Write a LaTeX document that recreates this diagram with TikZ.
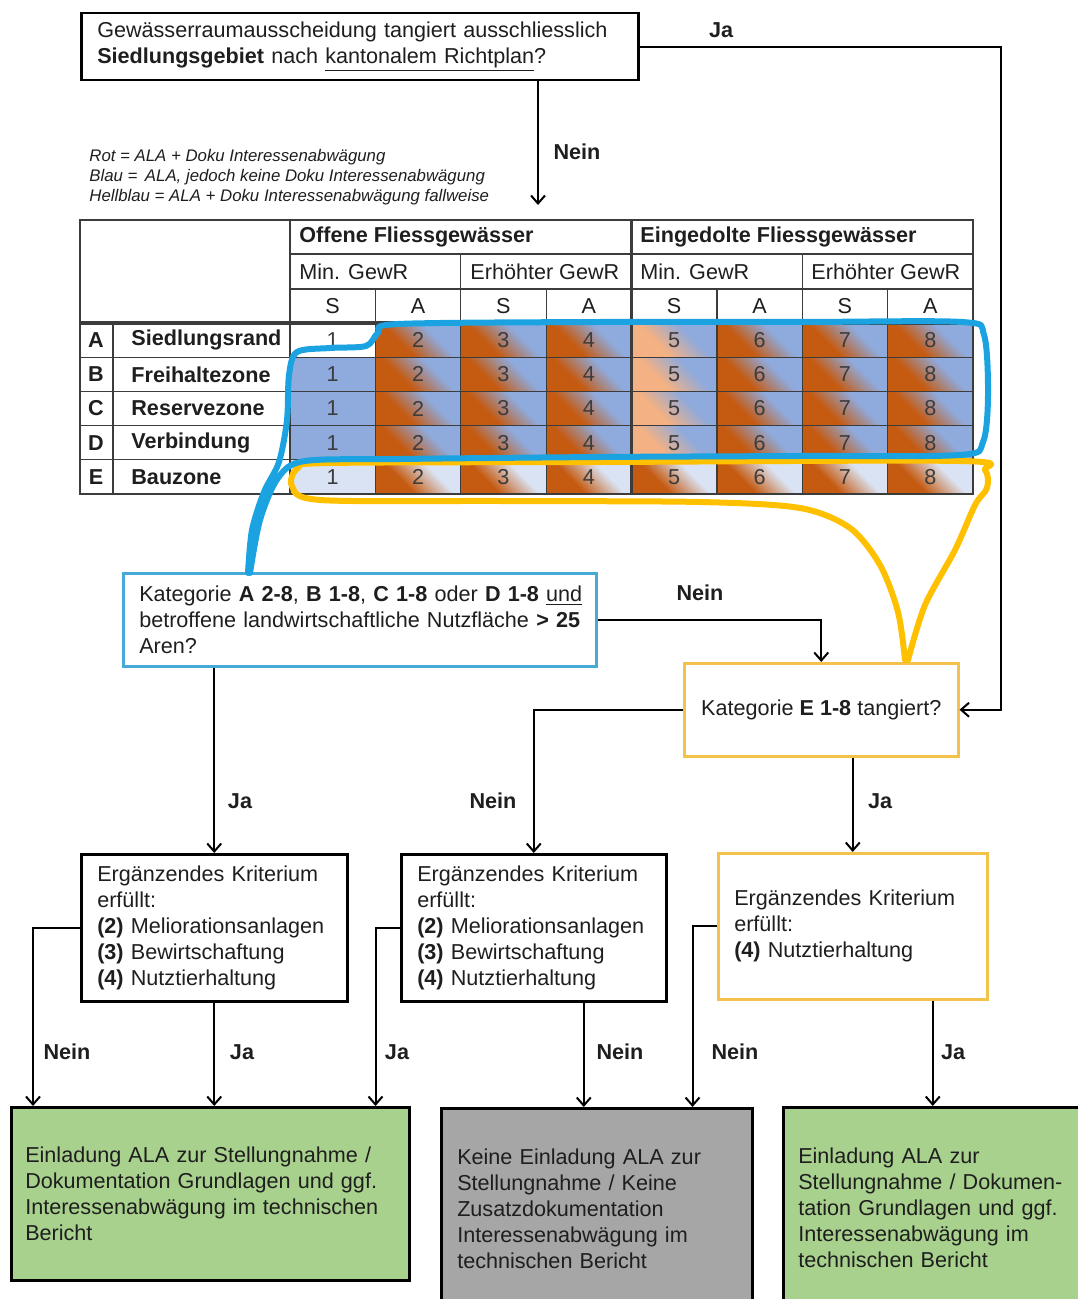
\documentclass[tikz,border=0pt]{standalone}
\usepackage{fontspec}
\setmainfont{Liberation Sans}
\usepackage{xcolor}
\usetikzlibrary{arrows.meta, positioning, calc}

\definecolor{orng}{HTML}{C55A11}
\definecolor{blu}{HTML}{8FAADC}
\definecolor{pch}{HTML}{F4B183}
\definecolor{ltblu}{HTML}{DAE3F3}
\definecolor{penblue}{HTML}{1AA3E0}
\definecolor{penyellow}{HTML}{FFC000}
\definecolor{katblue}{HTML}{45AAD5}
\definecolor{katgold}{HTML}{F2C24A}
\definecolor{grn}{HTML}{A9D18E}
\definecolor{gry}{HTML}{A6A6A6}
\definecolor{txt}{HTML}{1E1E1E}
\definecolor{gridc}{HTML}{3C3C3C}

\pgfdeclarehorizontalshading{orbl}{100bp}{color(0bp)=(orng); color(38bp)=(orng); color(62bp)=(blu); color(100bp)=(blu)}
\pgfdeclarehorizontalshading{pchbl}{100bp}{color(0bp)=(pch); color(38bp)=(pch); color(62bp)=(blu); color(100bp)=(blu)}
\pgfdeclarehorizontalshading{orlt}{100bp}{color(0bp)=(orng); color(38bp)=(orng); color(62bp)=(ltblu); color(100bp)=(ltblu)}

\newcommand{\fsz}{\fontsize{10.8pt}{13pt}\selectfont}

\tikzset{
  box/.style={draw, line width=1.25pt, anchor=north west, inner xsep=8pt, inner ysep=0pt,
    align=left, font=\fsz, text=txt},
  hd/.style={font=\fsz\bfseries, text=txt, inner sep=0pt},
  plain/.style={font=\fsz, text=txt, inner sep=0pt},
  num/.style={font=\fsz, text=gridc, inner sep=0pt},
  lbl/.style={font=\fsz\bfseries, text=txt, inner sep=0pt},
  legend/.style={font=\fontsize{8.4pt}{10pt}\selectfont\itshape, text=txt, align=left,
    anchor=west, inner sep=0pt},
  conn/.style={line width=1pt, -{Straight Barb[length=4pt,width=7pt]}},
  gridline/.style={draw=gridc, line width=0.6pt},
  pen/.style={line width=3pt, line cap=round, line join=round, draw=#1},
}

\begin{document}
\begin{tikzpicture}[x=0.5pt, y=-0.5pt]
    \useasboundingbox (0,0) rectangle (1077,1299);

    % 1. Question boxes
    \node[box, text width=262.5pt, minimum height=33.5pt] (top) at (80,12)
        {Gewässerraumausscheidung tangiert ausschliesslich\\
         \textbf{Siedlungsgebiet} nach \underline{kantonalem Richtplan}?};
    \node[box, draw=katblue, text width=220.5pt, minimum height=46.5pt] (kat1) at (122,572)
        {\mbox{Kategorie \textbf{A 2-8}, \textbf{B 1-8}, \textbf{C 1-8} oder \textbf{D 1-8} \underline{und}}\\
         \mbox{betroffene landwirtschaftliche Nutzfläche \textbf{> 25}}\\
         Aren?};
    \node[box, draw=katgold, minimum width=137pt, minimum height=46.5pt, align=center] (katE) at (683,662)
        {Kategorie \textbf{E 1-8} tangiert?};

    % 2. Supplementary criteria
    \node[box, text width=117pt, minimum height=73.5pt] (crit1) at (80,853)
        {Ergänzendes Kriterium\\ erfüllt:\\ \textbf{(2)} Meliorationsanlagen\\
         \textbf{(3)} Bewirtschaftung\\ \textbf{(4)} Nutztierhaltung};
    \node[box, text width=116.5pt, minimum height=73.5pt] (crit2) at (400,853)
        {Ergänzendes Kriterium\\ erfüllt:\\ \textbf{(2)} Meliorationsanlagen\\
         \textbf{(3)} Bewirtschaftung\\ \textbf{(4)} Nutztierhaltung};
    \node[box, draw=katgold, text width=118.5pt, minimum height=73pt] (crit3) at (717,852)
        {Ergänzendes Kriterium\\ erfüllt:\\ \textbf{(4)} Nutztierhaltung};

    % 3. Results
    \node[box, fill=grn, inner xsep=7pt, text width=185pt, minimum height=86.5pt] (green1) at (10,1106)
        {Einladung ALA zur Stellungnahme /\\ Dokumentation Grundlagen und ggf.\\
         Interessenabwägung im technischen\\ Bericht};
    \node[box, fill=gry, text width=139.5pt, minimum height=100.5pt] (gray) at (440,1107)
        {Keine Einladung ALA zur\\ Stellungnahme / Keine\\ Zusatzdokumentation\\
         Interessenabwägung im\\ technischen Bericht};
    \node[box, fill=grn, inner xsep=7.5pt, text width=139pt, minimum height=101pt] (green2) at (782,1106)
        {Einladung ALA zur\\ Stellungnahme / Dokumen-\\ tation Grundlagen und ggf.\\
         Interessenabwägung im\\ technischen Bericht};

    % 4. Legend
    \node[legend] (leg) at (89,177)
        {Rot = ALA + Doku Interessenabwägung\\
         Blau =\ \,ALA, jedoch keine Doku Interessenabwägung\\
         Hellblau = ALA + Doku Interessenabwägung fallweise};

    % 5. Table cells
    \foreach \r in {0,...,3}
      \foreach \c in {2,3,4,6,7,8}
        \shade[shading=orbl, shading angle=45] ({290+(\c-1)*85.375},{323+\r*34.2}) rectangle +(85.375,34.2);
    \foreach \r in {0,...,3}
      \shade[shading=pchbl, shading angle=45] (631.5,{323+\r*34.2}) rectangle +(85.375,34.2);
    \foreach \r in {1,2,3}
      \fill[blu] (290,{323+\r*34.2}) rectangle +(85.375,34.2);
    \fill[ltblu] (290,459.8) rectangle +(85.375,34.2);
    \foreach \c in {2,...,8}
      \shade[shading=orlt, shading angle=45] ({290+(\c-1)*85.375},459.8) rectangle +(85.375,34.2);

    % 6. Table grid
    \draw[gridline] (80,220) rectangle (973,494);
    \foreach \y in {357.2,391.4,425.6,459.8}
      \draw[gridline] (80,\y) -- (973,\y);
    \draw[gridline] (290,254) -- (973,254);
    \draw[gridline] (290,289) -- (973,289);
    \draw[gridline] (113,323) -- (113,494);
    \draw[gridline] (290,220) -- (290,494);
    \foreach \x in {375.4,546.1,716.9,887.6}
      \draw[gridline] (\x,289) -- (\x,494);
    \foreach \x in {460.75,802.25}
      \draw[gridline] (\x,254) -- (\x,494);
    \draw[gridline, line width=1.6pt] (80,323) -- (973,323);
    \draw[gridline, line width=1.6pt] (631.5,220) -- (631.5,494);

    % 7. Table texts
    \node[hd, anchor=west] (off) at (299,237) {Offene Fliessgewässer};
    \node[hd, anchor=west] (ein) at (640,237) {Eingedolte Fliessgewässer};
    \node[plain, anchor=west] (min1) at (299,272) {Min. GewR};
    \node[plain, anchor=west] (erh1) at (470,272) {Erhöhter GewR};
    \node[plain, anchor=west] (min2) at (640,272) {Min. GewR};
    \node[plain, anchor=west] (erh2) at (811,272) {Erhöhter GewR};
    \foreach \h [count=\c] in {S,A,S,A,S,A,S,A}
      \node[plain] (h\c) at ({290+(\c-0.5)*85.375},306) {\h};
    \foreach \l/\name [count=\i from 0] in {A/Siedlungsrand, B/Freihaltezone,
        C/Reservezone, D/Verbindung, E/Bauzone} {
      \node[hd] (l\i) at (96,{340.1+\i*34.2}) {\l};
      \node[hd, anchor=west] (z\i) at (131,{340.1+\i*34.2}) {\name};
    }
    \foreach \r in {0,...,4}
      \foreach \c in {1,...,8}
        \node[num] (n\r\c) at ({290+(\c-0.5)*85.375},{340.1+\r*34.2}) {\c};

    % 8. Marker strokes
    \draw[pen=penyellow] plot[smooth, tension=0.5] coordinates {(905,660) (898,612) (880,565)
      (850,528) (800,508) (700,502) (500,501) (320,500) (292,486) (298,468) (330,463) (600,462)
      (960,461) (985,470) (987,488) (975,505) (955,550) (925,605) (908,660)};
    \draw[pen=penblue] plot[smooth, tension=0.5] coordinates {(248,573) (252,530) (264,492)
      (279,462) (287,420) (289,375) (297,352) (330,348) (366,346) (378,333) (398,324) (600,322)
      (800,322) (962,322) (984,335) (988,395) (983,442) (960,455) (800,456) (600,457) (400,459)
      (305,461) (278,478) (260,520) (250,573)};

    % 9. Connectors
    \coordinate (neinT) at (538,205);
    \coordinate (jaR) at (1001,45);
    \draw[conn] (top.south -| neinT) -- (neinT);
    \draw[conn] (top.east) -- (top.east -| jaR) |- (katE.east);
    \draw[conn] (kat1.east) -| (katE.north);
    \draw[conn] (kat1.south -| crit1.north) -- (crit1.north);
    \draw[conn] (katE.west) -| (crit2.north);
    \draw[conn] (katE.south -| crit3.north) -- (crit3.north);
    \draw[conn] (crit1.west) -| ([xshift=11.5pt]green1.north west);
    \draw[conn] (crit1.south) -- (crit1.south |- green1.north);
    \draw[conn] (crit2.west) -| ([xshift=-17.5pt]green1.north east);
    \draw[conn] ([xshift=25pt]crit2.south) -- ([xshift=25pt]crit2.south |- gray.north);
    \draw[conn] (crit3.west) -| ([xshift=-30.5pt]gray.north east);
    \draw[conn] ([xshift=40pt]crit3.south) -- ([xshift=40pt]crit3.south |- green2.north);

    % 10. Connector labels
    \node[lbl] (ja0) at (721,30) {Ja};
    \node[lbl] (nein0) at (577,152) {Nein};
    \node[lbl] (nein1) at (700,593) {Nein};
    \node[lbl] (ja1) at (240,801) {Ja};
    \node[lbl] (nein2) at (493,801) {Nein};
    \node[lbl] (ja2) at (880,801) {Ja};
    \node[lbl] (nein3) at (67,1052) {Nein};
    \node[lbl] (ja3) at (242,1052) {Ja};
    \node[lbl] (ja4) at (397,1052) {Ja};
    \node[lbl] (nein4) at (620,1052) {Nein};
    \node[lbl] (nein5) at (735,1052) {Nein};
    \node[lbl] (ja5) at (953,1052) {Ja};

\end{tikzpicture}
\end{document}
